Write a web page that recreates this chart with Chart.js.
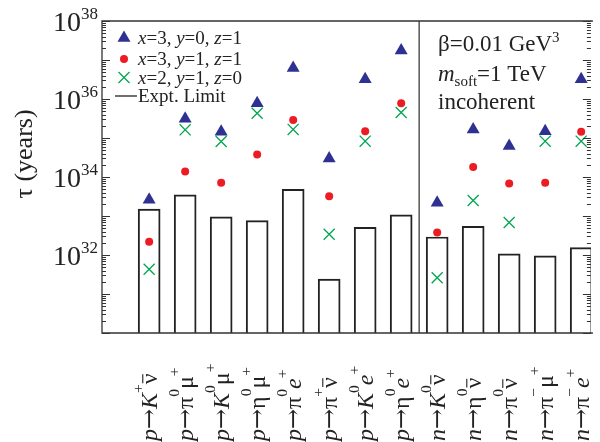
<!DOCTYPE html>
<html>
<head>
<meta charset="utf-8">
<script src="https://cdn.jsdelivr.net/npm/chart.js@4/dist/chart.umd.min.js"></script>
<style>
  html, body { margin: 0; padding: 0; background: #fff; overflow: hidden; }
</style>
</head>
<body>
<canvas id="chart" width="600" height="442"></canvas>
<script>
// markup: *italic*, ^{sup}, _{sub}, ~{overline}
const categories = [
  '*p*→*K*^{+}~{ν}', '*p*→π^{0}μ^{+}', '*p*→*K*^{0}μ^{+}', '*p*→η^{0}μ^{+}',
  '*p*→π^{0}*e*^{+}', '*p*→π^{+}~{ν}', '*p*→*K*^{0}*e*^{+}', '*p*→η^{0}*e*^{+}',
  '*n*→*K*^{0}~{ν}', '*n*→η^{0}~{ν}', '*n*→π^{0}~{ν}', '*n*→π^{−}μ^{+}', '*n*→π^{−}*e*^{+}'
];
const limitYears = [1.5e33, 3.5e33, 9.5e32, 7.6e32, 4.8e33, 2.4e31, 5.1e32, 1.07e33,
  2.9e32, 5.4e32, 1.07e32, 9.5e31, 1.55e32];
const tauX3Y0Z1 = [2.6e33, 3.1e35, 1.45e35, 7.8e35, 6.2e36, 3.0e34, 3.2e36, 1.74e37,
  2.2e33, 1.66e35, 6.2e34, 1.5e35, 3.2e36];
const tauX3Y1Z1 = [2.2e32, 1.38e34, 7.1e33, 3.8e34, 2.9e35, 3.2e33, 1.5e35, 7.8e35,
  3.8e32, 1.8e34, 6.8e33, 7.1e33, 1.45e35];
const tauX2Y1Z0 = [4.3e31, 1.62e35, 8.1e34, 4.3e35, 1.66e35, 3.4e32, 8.3e34, 4.5e35,
  2.6e31, 2.5e33, 6.8e32, 8.3e34, 8.3e34];
const yTickExps = [32, 34, 36, 38];
const legendLabels = ['*x*=3, *y*=0, *z*=1', '*x*=3, *y*=1, *z*=1', '*x*=2, *y*=1, *z*=0', 'Expt. Limit'];
const noteLines = ['β=0.01 GeV^{3}', '*m*_{soft}=1 TeV', 'incoherent'];

const FONT = '"Liberation Serif", "DejaVu Serif", serif';
const ARROW_FONT = '"DejaVu Serif", serif';
const BLUE = '#2e3192', RED = '#ed1c24', GREEN = '#00a650';

function parseRich(str) {
  const segs = [];
  const re = /\*([^*]*)\*|\^\{([^}]*)\}|_\{([^}]*)\}|~\{([^}]*)\}|(→)|([^*^_~→]+)/g;
  let m;
  while ((m = re.exec(str))) {
    if (m[1] !== undefined) segs.push({t: m[1], it: true, sc: 0});
    else if (m[2] !== undefined) segs.push({t: m[2], it: false, sc: 1});
    else if (m[3] !== undefined) segs.push({t: m[3], it: false, sc: -1});
    else if (m[4] !== undefined) segs.push({t: m[4], it: false, sc: 0, ov: true});
    else if (m[5] !== undefined) segs.push({t: m[5], it: false, sc: 0, ar: true});
    else segs.push({t: m[6], it: false, sc: 0});
  }
  return segs;
}

function setFont(ctx, s, o) {
  const sz = s.sc ? o.small : o.size;
  ctx.font = (s.it ? 'italic ' : '') + sz + 'px ' + (s.ar ? ARROW_FONT : FONT);
  return sz;
}

// o: {size, small, raise, lower}
function richWidth(ctx, segs, o) {
  let w = 0;
  segs.forEach(s => { setFont(ctx, s, o); w += ctx.measureText(s.t).width; });
  return w;
}

function drawRich(ctx, segs, x, y, o) {
  let cx = x;
  segs.forEach(s => {
    const sz = setFont(ctx, s, o);
    const dy = s.sc === 1 ? -o.raise : s.sc === -1 ? o.lower : 0;
    ctx.fillText(s.t, cx, y + dy);
    const w = ctx.measureText(s.t).width;
    if (s.ov) {
      ctx.beginPath();
      ctx.lineWidth = 1.2;
      ctx.moveTo(cx + 1, y - sz * 0.6);
      ctx.lineTo(cx + w - 1, y - sz * 0.6);
      ctx.stroke();
    }
    cx += w;
  });
}

function marker(ctx, style, x, y) {
  ctx.save();
  if (style === 'triangle') {
    const r = 7.5;
    ctx.fillStyle = BLUE;
    ctx.beginPath();
    for (let k = 0; k < 3; k++) {
      const a = k * 2 * Math.PI / 3;
      ctx.lineTo(x + Math.sin(a) * r, y - Math.cos(a) * r);
    }
    ctx.closePath();
    ctx.fill();
  } else if (style === 'circle') {
    ctx.fillStyle = RED;
    ctx.beginPath();
    ctx.arc(x, y, 4, 0, 2 * Math.PI);
    ctx.fill();
  } else if (style === 'crossRot') {
    const d = 5.5;
    ctx.strokeStyle = GREEN;
    ctx.lineWidth = 1.3;
    ctx.beginPath();
    ctx.moveTo(x - d, y - d); ctx.lineTo(x + d, y + d);
    ctx.moveTo(x - d, y + d); ctx.lineTo(x + d, y - d);
    ctx.stroke();
  } else {
    ctx.strokeStyle = '#222';
    ctx.lineWidth = 1.3;
    ctx.beginPath();
    ctx.moveTo(x - 9, y); ctx.lineTo(x + 13, y);
    ctx.stroke();
  }
  ctx.restore();
}

const framePlugin = {
  id: 'frame',
  beforeDatasetsDraw(chart) {
    const {ctx, chartArea: a, scales: {x}} = chart;
    const dx = x.getPixelForValue(8.5);
    ctx.save();
    ctx.strokeStyle = '#555';
    ctx.lineWidth = 1.5;
    ctx.beginPath();
    ctx.moveTo(dx, a.top); ctx.lineTo(dx, a.bottom);
    ctx.stroke();
    ctx.restore();
  },
  afterDraw(chart) {
    const {ctx, chartArea: a, scales: {x, y}} = chart;
    ctx.save();
    ctx.strokeStyle = '#333';
    ctx.fillStyle = '#222';
    ctx.lineWidth = 1.3;
    ctx.beginPath();
    ctx.moveTo(a.right + 2, a.top); ctx.lineTo(a.left, a.top);
    ctx.lineTo(a.left, a.bottom); ctx.lineTo(a.right + 2, a.bottom);
    ctx.stroke();

    // log ticks on left and right
    ctx.lineWidth = 1;
    ctx.beginPath();
    for (let e = 30; e <= 38; e++) {
      for (let k = 1; k <= 9; k++) {
        const v = k * Math.pow(10, e);
        if (v > 1e38) break;
        const py = Math.round(y.getPixelForValue(v)) + 0.5;
        const len = k === 1 ? 8 : 4;
        ctx.moveTo(a.left, py); ctx.lineTo(a.left + len, py);
        ctx.moveTo(a.right, py); ctx.lineTo(a.right - len, py);
      }
    }
    ctx.stroke();

    // y tick labels
    ctx.textBaseline = 'alphabetic';
    const yo = {size: 28, small: 17, raise: 12, lower: 0};
    yTickExps.forEach(e => {
      const segs = parseRich('10^{' + e + '}');
      const py = y.getPixelForValue(Math.pow(10, e));
      const w = richWidth(ctx, segs, yo);
      drawRich(ctx, segs, 98 - w, py + 10, yo);
    });

    // y title
    ctx.save();
    ctx.translate(32, 154);
    ctx.rotate(-Math.PI / 2);
    ctx.font = '26px ' + FONT;
    ctx.textAlign = 'center';
    ctx.fillText('τ (years)', 0, 0);
    ctx.restore();

    // x category labels
    const xo = {size: 24, small: 15.5, raise: 14, lower: 0};
    categories.forEach((c, i) => {
      const px = x.getPixelForValue(i + 1);
      ctx.save();
      ctx.translate(px + 8, 441);
      ctx.rotate(-Math.PI / 2);
      drawRich(ctx, parseRich(c), 0, 0, xo);
      ctx.restore();
    });

    // legend
    const lo = {size: 19, small: 12, raise: 7, lower: 4};
    const styles = ['triangle', 'circle', 'crossRot', 'line'];
    const rows = [38, 59, 77.5, 96];
    legendLabels.forEach((l, i) => {
      marker(ctx, styles[i], 124, rows[i]);
      drawRich(ctx, parseRich(l), 138, rows[i] + 6, lo);
    });

    // notes
    const no = {size: 23, small: 15, raise: 9, lower: 5};
    const base = [51, 81, 109];
    noteLines.forEach((l, i) => drawRich(ctx, parseRich(l), 438, base[i], no));
    ctx.restore();
  }
};

const xs = categories.map((c, i) => i + 1);
const pts = arr => arr.map((v, i) => ({x: xs[i], y: v}));

new Chart(document.getElementById('chart'), {
  type: 'scatter',
  data: {
    datasets: [
      { label: 'x=3, y=0, z=1', data: pts(tauX3Y0Z1), pointStyle: 'triangle', pointRadius: 7.5,
        backgroundColor: BLUE, borderColor: BLUE, borderWidth: 0, order: 1 },
      { label: 'x=3, y=1, z=1', data: pts(tauX3Y1Z1), pointStyle: 'circle', pointRadius: 4,
        backgroundColor: RED, borderColor: RED, borderWidth: 0, order: 2 },
      { label: 'x=2, y=1, z=0', data: pts(tauX2Y1Z0), pointStyle: 'crossRot', pointRadius: 7.8,
        backgroundColor: GREEN, borderColor: GREEN, borderWidth: 1.3, order: 3 },
      { type: 'bar', label: 'Expt. Limit', data: pts(limitYears), base: 1e30, barThickness: 22,
        backgroundColor: 'rgba(0,0,0,0)', borderColor: '#222', borderWidth: 1.3, order: 5 }
    ]
  },
  options: {
    responsive: false,
    animation: false,
    devicePixelRatio: 1,
    layout: { padding: { left: 102, top: 21, right: 0, bottom: 109 } },
    plugins: { legend: { display: false }, tooltip: { enabled: false } },
    scales: {
      x: { type: 'linear', display: false, offset: false, min: -0.31, max: 13.27 },
      y: { type: 'logarithmic', display: false, min: 1e30, max: 1e38 }
    }
  },
  plugins: [framePlugin]
});
</script>
</body>
</html>
